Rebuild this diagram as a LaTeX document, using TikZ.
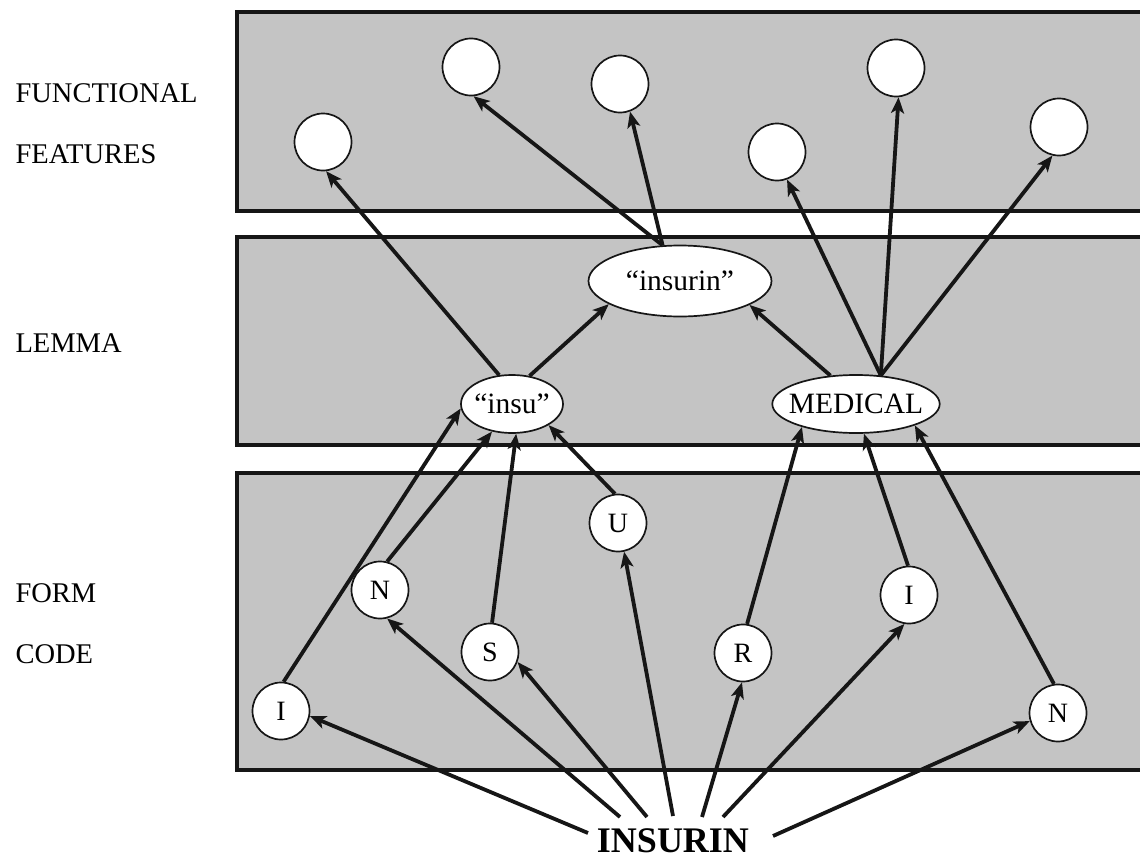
\documentclass[tikz,border=0pt]{standalone}
\usepackage{fontspec}
\setmainfont{Liberation Serif}
\usetikzlibrary{arrows.meta,shapes.geometric}
\definecolor{bandgray}{RGB}{196,196,196}
\definecolor{ink}{RGB}{22,22,22}

\begin{document}
\begin{tikzpicture}[x=1pt,y=-1pt,
  band/.style={fill=bandgray},
  bandedge/.style={draw=ink,line width=3.5pt},
  unit/.style={circle,draw=ink,line width=1.7pt,fill=white,minimum size=57pt,
    inner sep=0pt,font=\fontsize{28}{32}\selectfont},
  lemma/.style={ellipse,draw=ink,line width=1.7pt,fill=white,inner xsep=-8pt,
    inner ysep=0pt,font=\fontsize{29.5}{33}\selectfont},
  tag/.style={anchor=base west,font=\fontsize{28.5}{32}\selectfont},
  link/.style={draw=ink,line width=3.8pt,
    -{Stealth[length=16pt,width=13pt,inset=4pt]}},
]
\useasboundingbox (0,0) rectangle (1140,859);

% three horizontal bands, open on the right
\fill[band] (237,12) rectangle (1140,211);
\draw[bandedge] (1142,12) -- (237,12) -- (237,211) -- (1142,211);
\fill[band] (237,237) rectangle (1140,445);
\draw[bandedge] (1142,237) -- (237,237) -- (237,445) -- (1142,445);
\fill[band] (237,473) rectangle (1140,770);
\draw[bandedge] (1142,473) -- (237,473) -- (237,770) -- (1142,770);

% level names
\node[tag] (t1) at (12,102) {FUNCTIONAL};
\node[tag] (t2) at (12,163) {FEATURES};
\node[tag] (t3) at (12,352) {LEMMA};
\node[tag] (t4) at (12,602) {FORM};
\node[tag] (t5) at (12,663) {CODE};

% functional features
\node[unit] (f1) at (323,142) {};
\node[unit] (f2) at (471,67) {};
\node[unit] (f3) at (620,84) {};
\node[unit] (f4) at (777,152) {};
\node[unit] (f5) at (896,68) {};
\node[unit] (f6) at (1059,127) {};

% lemmas
\node[lemma,minimum width=183pt,minimum height=71pt] (insurin) at (680,281) {“insurin”};
\node[lemma,minimum width=102pt,minimum height=58pt] (insu) at (512,404) {“insu”};
\node[lemma,minimum width=166pt,minimum height=58pt] (medical) at (856,404) {MEDICAL};

% form code letters
\node[unit] (i1) at (281,711) {I};
\node[unit] (n1) at (380,590) {N};
\node[unit] (s)  at (490,652) {S};
\node[unit] (u)  at (618,523) {U};
\node[unit] (r)  at (743,653) {R};
\node[unit] (i2) at (909,595) {I};
\node[unit] (n2) at (1058,713) {N};

% input word
\node[anchor=base,font=\bfseries\fontsize{36}{40}\selectfont] (word) at (673,852) {INSURIN};
\coordinate (s1) at (588,833);
\coordinate (s2) at (620,817);
\coordinate (s3) at (647,817);
\coordinate (s4) at (673,816);
\coordinate (s5) at (702,817);
\coordinate (s6) at (723,817);
\coordinate (s7) at (773,836);

% word -> letters
\draw[link] (s1) -- (i1.350);
\draw[link] (s2) -- (n1.284);
\draw[link] (s3) -- (s.340);
\draw[link] (s4) -- (u.282);
\draw[link] (s5) -- (r.268);
\draw[link] (s6) -- (i2.261);
\draw[link] (s7) -- (n2.196);

% letters -> lemmas
\draw[link] (i1.85) -- (insu.185);
\draw[link] (n1.76) -- (insu.234);
\draw[link] (s.86) -- (insu.278);
\draw[link] (u.96) -- (insu.330);
\draw[link] (r.82) -- (medical.203);
\draw[link] (i2.92) -- (medical.285);
\draw[link] (n2.98) -- (medical.340);

% lemma -> lemma
\draw[link] (insu.58) -- (insurin.198);
\draw[link] (medical.132) -- (insurin.341);

% lemmas -> functional features
\draw[link] (insu.114) -- (f1.276);
\draw[link] (insurin.116) -- (f2.275);
\draw[link] (insurin.116) -- (f3.290);
\draw[link] (medical.49) -- (f4.290);
\draw[link] (medical.49) -- (f5.275);
\draw[link] (medical.49) -- (f6.257);
\end{tikzpicture}
\end{document}
